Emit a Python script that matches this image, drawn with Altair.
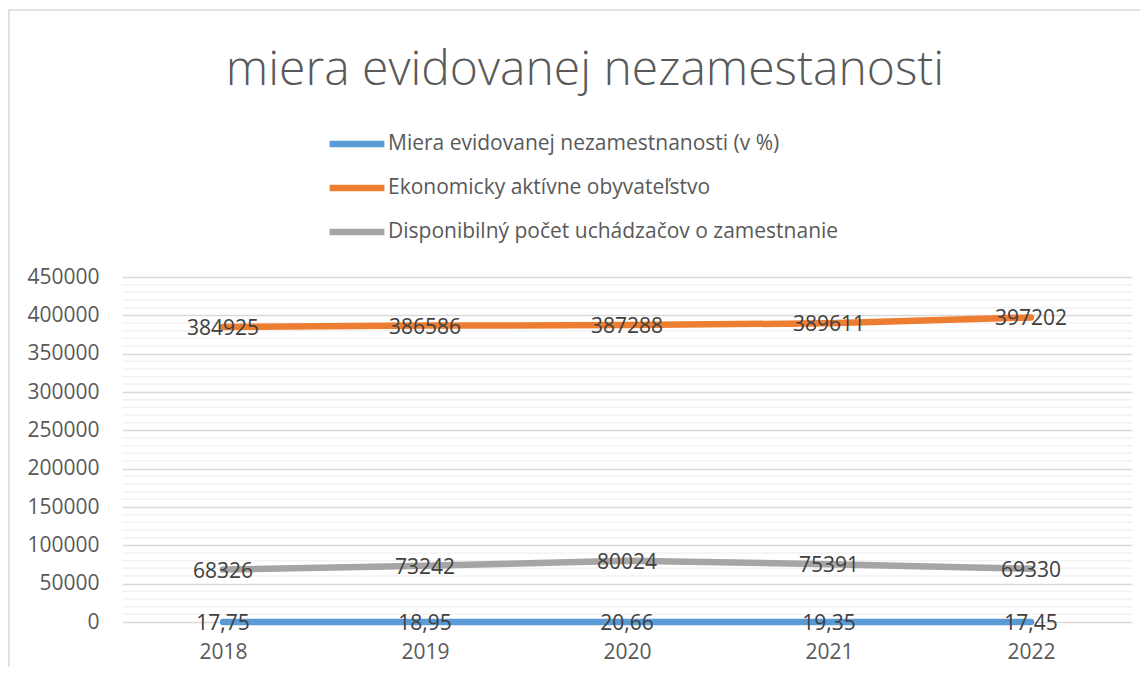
import altair as alt
import pandas as pd

years = ["2018", "2019", "2020", "2021", "2022"]
miera = [17.75, 18.95, 20.66, 19.35, 17.45]
ekon = [384925, 386586, 387288, 389611, 397202]
disp = [68326, 73242, 80024, 75391, 69330]
series_names = [
    "Miera evidovanej nezamestnanosti (v %)",
    "Ekonomicky aktívne obyvateľstvo",
    "Disponibilný počet uchádzačov o zamestnanie",
]
colors = ["#5B9BD5", "#ED7D31", "#A5A5A5"]
major_ticks = list(range(0, 450001, 50000))
minor_ticks = [v for v in range(0, 450001, 10000) if v % 50000]

rows = []
for name, vals in zip(series_names, [miera, ekon, disp]):
    for yr, v in zip(years, vals):
        label = f"{v:.2f}".replace(".", ",") if isinstance(v, float) else str(v)
        rows.append({"year": yr, "series": name, "value": v, "label": label})
df = pd.DataFrame(rows)

FONT = "Open Sans"
FS = 21
yscale = alt.Scale(domain=[0, 450000], nice=False, zero=True)
xscale = alt.Scale(type="point", padding=0.5)

x_enc = alt.X(
    "year:O",
    scale=xscale,
    sort=years,
    axis=alt.Axis(
        title=None, labelAngle=0, domain=False, ticks=False, grid=False,
        labelFontSize=FS, labelColor="#595959", labelPadding=19, labelFont=FONT,
    ),
)
y_axis = alt.Axis(
    values=major_ticks, format="d", title=None, domain=False, ticks=False,
    gridColor="#D9D9D9", gridWidth=1.5, labelPadding=23,
    labelFontSize=FS, labelColor="#595959", labelFont=FONT,
)
y_enc = alt.Y("value:Q", scale=yscale, axis=y_axis)

frame = alt.Chart(pd.DataFrame({"a": [0]})).mark_rect(
    fillOpacity=0, stroke="#D9D9D9", strokeWidth=1.5, clip=False
).encode(
    x=alt.value(-113), x2=alt.value(1300), y=alt.value(-267), y2=alt.value(600)
)

minor = alt.Chart(pd.DataFrame({"value": minor_ticks})).mark_rule(
    color="#F2F2F2", strokeWidth=1.5
).encode(y=y_enc)

base = alt.Chart(df)
lines = base.mark_line(strokeWidth=6.5, strokeCap="round", strokeJoin="round").encode(
    x=x_enc,
    y=y_enc,
    color=alt.Color(
        "series:N",
        scale=alt.Scale(domain=series_names, range=colors),
        legend=alt.Legend(
            orient="none", legendX=204, legendY=-164, direction="vertical",
            title=None, symbolType="stroke", symbolSize=3000,
            symbolStrokeWidth=6.5, labelFontSize=FS, labelColor="#595959",
            labelFont=FONT, rowPadding=-1, labelOffset=0, labelLimit=0,
        ),
    ),
    detail="series:N",
)
labels = base.mark_text(fontSize=FS, color="#404040", dy=2, font=FONT).encode(
    x=x_enc,
    y=y_enc,
    text="label:N",
)

chart = (
    alt.layer(frame, minor, lines, labels)
    .properties(
        width=1010,
        height=345,
        autosize=alt.AutoSizeParams(type="none"),
        padding={"left": 114, "top": 269, "right": 8, "bottom": 45},
        title=alt.TitleParams(
            "miera evidovanej nezamestanosti", fontSize=48, font=FONT,
            fontWeight=300, color="#595959", anchor="middle", dx=-42, offset=-86,
        ),
    )
    .configure_view(stroke=None)
)

chart.save("out.html", embed_options={"renderer": "svg", "actions": False})
